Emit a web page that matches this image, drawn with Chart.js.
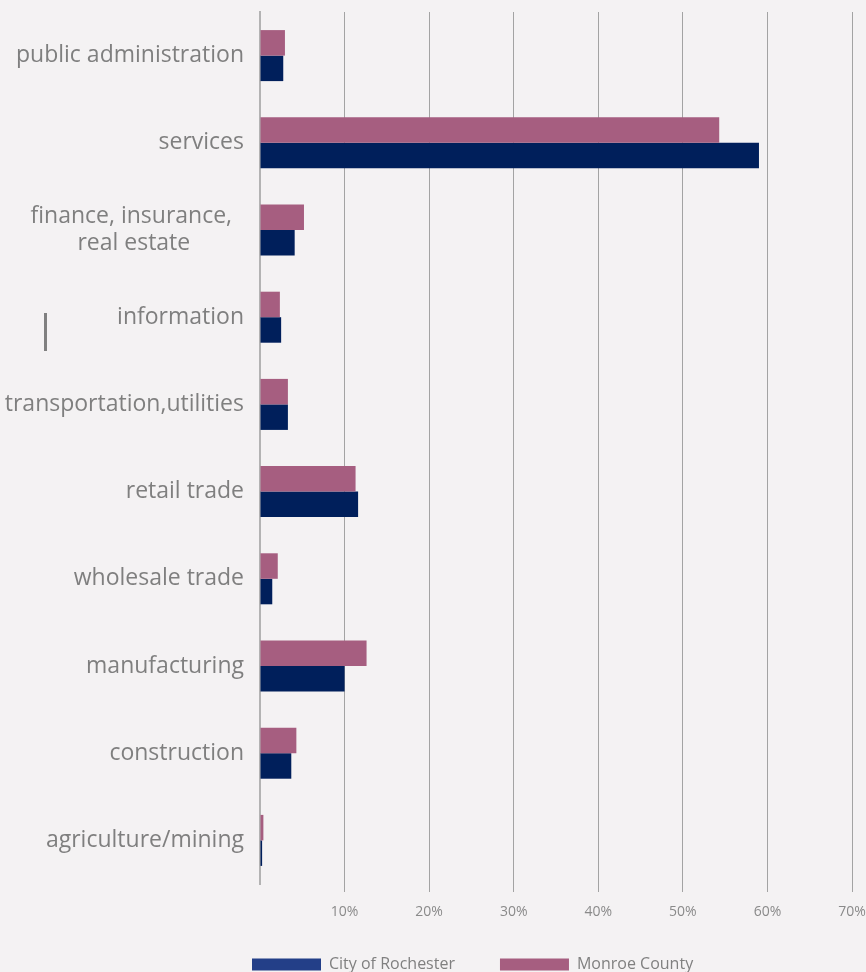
<!DOCTYPE html>
<html><head><meta charset="utf-8">
<script src="https://cdn.jsdelivr.net/npm/chart.js@4"></script>
<style>
html,body{margin:0;padding:0;background:#f4f2f3;}
#wrap{width:866px;height:972px;position:relative;}
</style></head><body>
<div id="wrap"><canvas id="c"></canvas></div>
<script>
const categories = ['public administration','services',['finance, insurance,  ','real estate         '],'information','transportation,utilities','retail trade','wholesale trade','manufacturing','construction','agriculture/mining'];
const monroeCounty = [2.95,54.3,5.2,2.35,3.3,11.3,2.1,12.6,4.3,0.4];
const cityOfRochester = [2.75,59.0,4.1,2.5,3.3,11.6,1.45,10.0,3.7,0.25];
const xTickValues = [0,10,20,30,40,50,60,70];
const seriesNames = ['Monroe County','City of Rochester'];
const barColors = ['#a65e80','#001f5b'];
const legendColors = ['#a65e80','#233f88'];
const FONT = "'Open Sans', sans-serif";

const legendPos = {
  id:'legendPos',
  afterLayout(chart){
    const lg = chart.legend;
    const dx = 207 - lg.left; lg.left += dx; lg.right += dx;
    lg.top = 911.5; lg.bottom = 990;
  }
};
const strayMark = {
  id:'strayMark',
  afterDraw(chart){
    const ctx = chart.ctx; ctx.save();
    ctx.fillStyle = '#808080'; ctx.fillRect(44,313,3,38);
    ctx.restore();
  }
};

new Chart(document.getElementById('c'), {
  type:'bar',
  data:{
    labels: categories,
    datasets:[
      {label: seriesNames[0], data: monroeCounty, backgroundColor: barColors[0], barPercentage:1, categoryPercentage:0.585},
      {label: seriesNames[1], data: cityOfRochester, backgroundColor: barColors[1], barPercentage:1, categoryPercentage:0.585}
    ]
  },
  options:{
    indexAxis:'y',
    responsive:true,
    maintainAspectRatio:false,
    animation:false,
    devicePixelRatio:1,
    layout:{padding:{top:12,left:0,right:14,bottom:0}},
    scales:{
      x:{
        min:0,max:70,
        afterBuildTicks(scale){ scale.ticks = xTickValues.map(v=>({value:v})); },
        afterFit(scale){ scale.height = 40; scale.paddingLeft = 0; scale.paddingRight = 0; },
        ticks:{
          callback:(v)=> v===0 ? '' : v + '%',
          color:'#8a8a8a', font:{family:FONT,size:14}, padding:12, maxRotation:0
        },
        grid:{
          color:(c)=> (c.tick && c.tick.value===0) ? 'rgba(0,0,0,0)' : '#a3a3a3',
          lineWidth:1, tickLength:8, drawTicks:true
        },
        border:{display:false}
      },
      y:{
        afterFit(scale){ scale.width = 260; scale.paddingTop = 0; scale.paddingBottom = 0; },
        ticks:{color:'#7f7f7f', font:{family:FONT,size:23}, padding:16, autoSkip:false},
        grid:{display:false, drawTicks:false},
        border:{display:true, color:'#b3b3b3', width:2}
      }
    },
    plugins:{
      legend:{
        position:'bottom',
        align:'start',
        reverse:true,
        maxHeight:48,
        labels:{
          boxWidth:69, boxHeight:12, padding:45,
          color:'#808080', font:{family:FONT,size:16},
          generateLabels(chart){
            const items = Chart.defaults.plugins.legend.labels.generateLabels(chart);
            items.forEach(it=>{ it.fillStyle = legendColors[it.datasetIndex]; it.strokeStyle = legendColors[it.datasetIndex]; it.lineWidth = 0; });
            return items;
          }
        }
      },
      tooltip:{enabled:false}
    }
  },
  plugins:[legendPos, strayMark]
});
</script>
</body></html>
